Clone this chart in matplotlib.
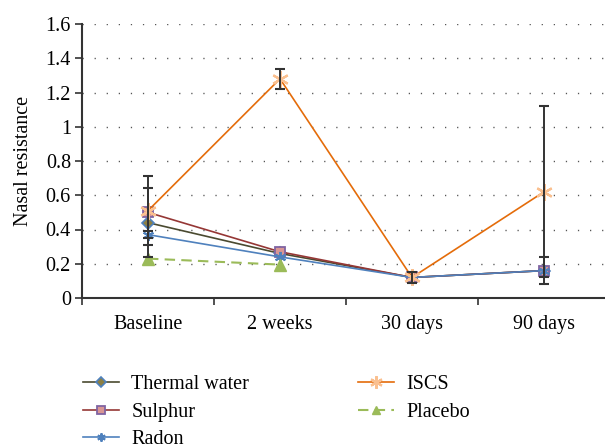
import matplotlib
matplotlib.use("Agg")
import matplotlib.pyplot as plt
import numpy as np
from matplotlib.ticker import FuncFormatter

plt.rcParams['font.family'] = ['Liberation Serif', 'DejaVu Serif']

categories = ["Baseline", "2 weeks", "30 days", "90 days"]
thermal_water = [0.44, 0.26, 0.12, 0.16]
sulphur = [0.50, 0.27, 0.12, 0.16]
radon = [0.37, 0.24, 0.12, 0.16]
iscs = [0.51, 1.28, 0.12, 0.62]
placebo = [0.23, 0.195, np.nan, np.nan]

thermal_err = [0.20, 0.0, 0.0, 0.0]
sulphur_err = [0.0, 0.0, 0.0, 0.08]
radon_err = [0.02, 0.0, 0.0, 0.0]
iscs_err = [0.20, 0.06, 0.03, 0.50]

yticks = [0, 0.2, 0.4, 0.6, 0.8, 1.0, 1.2, 1.4, 1.6]

W, H = 605, 447
FS = 14.5
fig = plt.figure(figsize=(W/100, H/100), dpi=100)
ax = fig.add_axes([82/W, 1-298/H, 528/W, (298-24)/H])

x = np.arange(len(categories))

series = [
    ("Thermal water", thermal_water, thermal_err,
     dict(color='#4a4a30', lw=1.2, marker='D', ms=6.5, mfc='#8c7f44', mec='#4f81bd', mew=1.2, ls='-')),
    ("Sulphur", sulphur, sulphur_err,
     dict(color='#953735', lw=1.2, marker='s', ms=7.5, mfc='#d99694', mec='#8064a2', mew=1.3, ls='-')),
    ("Radon", radon, radon_err,
     dict(color='#4f81bd', lw=1.2, marker=(6, 2, 0), ms=8, mfc='#4f81bd', mec='#4f81bd', mew=1.4, ls='-')),
    ("ISCS", iscs, iscs_err,
     dict(color='#e46c0a', lw=1.2, marker=(6, 2, 0), ms=12, mfc='#fac090', mec='#fac090', mew=1.6, ls='-')),
    ("Placebo", placebo, None,
     dict(color='#9bbb59', lw=1.5, marker='^', ms=8.5, mfc='#9bbb59', mec='#9bbb59', mew=1.0, ls=(0, (5, 3)))),
]

handles = []
for name, vals, err, st in series:
    h, = ax.plot(x, vals, label=name, zorder=3, **st)
    handles.append(h)

for name, vals, err, st in series:
    if err is None:
        continue
    v = np.array(vals, dtype=float)
    e = np.array(err, dtype=float)
    m = e > 0
    ax.errorbar(x[m], v[m], yerr=e[m], fmt='none', ecolor='#333333', elinewidth=1.4,
                capsize=3.5, capthick=1.5, zorder=4)

ax.set_xlim(-0.5, 3.5)
ax.set_ylim(0, 1.6)
ax.set_yticks(yticks)
ax.yaxis.set_major_formatter(FuncFormatter(lambda v, p: ('%g' % round(v, 1))))
for yv in yticks[1:]:
    ax.axhline(yv, color='#555555', lw=1.0, ls=(0, (0.9, 7.8)), zorder=1)

ax.set_xticks(x)
ax.set_xticklabels(categories)
ax.set_xticks(np.arange(-0.5, 3.6, 1.0), minor=True)
ax.tick_params(axis='x', which='major', length=0, pad=12, labelsize=FS)
ax.tick_params(axis='x', which='minor', length=5, width=1.2, color='#333333', direction='out')
ax.tick_params(axis='y', length=5, width=1.2, color='#333333', direction='out', labelsize=FS, pad=3)

for s in ['top', 'right']:
    ax.spines[s].set_visible(False)
for s in ['left', 'bottom']:
    ax.spines[s].set_color('#333333')
    ax.spines[s].set_linewidth(1.5)

ax.set_ylabel("Nasal resistance", fontsize=FS, labelpad=9)

leg = fig.legend(handles=handles, loc='upper left', bbox_to_anchor=(83/W, 1-375/H),
                 ncol=2, frameon=False, fontsize=FS, handlelength=1.8, handletextpad=0.6,
                 columnspacing=5.4, labelspacing=0.42, borderaxespad=0, borderpad=0,
                 markerscale=0.75)

fig.savefig("out.png", dpi=100)
